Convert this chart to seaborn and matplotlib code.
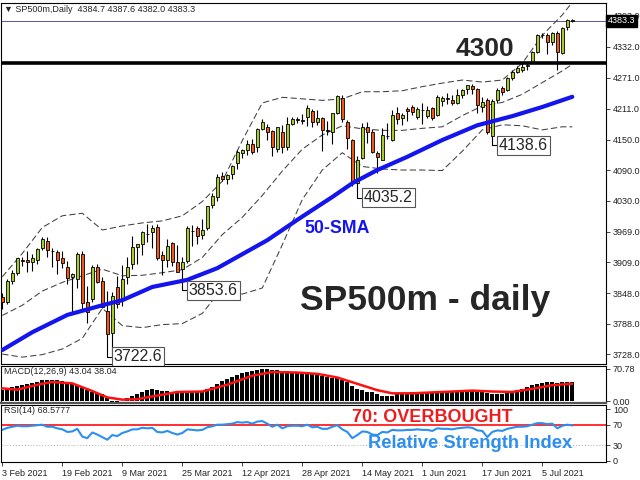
import numpy as np
import pandas as pd
import matplotlib
matplotlib.use('Agg')
import matplotlib.pyplot as plt
import seaborn as sns

# --- candles (one per daily bar, 3 Feb .. 13 Jul 2021) ---
opens = [3840, 3830, 3872, 3887, 3913, 3914, 3910, 3914, 3936, 3950,
         3930, 3928, 3917, 3900, 3880, 3875, 3925, 3830, 3836, 3900,
         3872, 3812, 3770, 3860, 3836, 3880, 3905, 3939, 3945, 3965,
         3968, 3977, 3922, 3913, 3946, 3910, 3895, 3912, 3970, 3976,
         3962, 3976, 4022, 4036, 4078, 4073, 4082, 4104, 4124, 4129,
         4141, 4135, 4171, 4175, 4167, 4131, 4165, 4135, 4181, 4190,
         4189, 4194, 4206, 4185, 4192, 4168, 4165, 4202, 4232, 4184,
         4149, 4064, 4114, 4175, 4165, 4123, 4110, 4157, 4149, 4202,
         4192, 4211, 4214, 4195, 4208, 4196, 4212, 4198, 4226, 4230,
         4228, 4222, 4238, 4249, 4255, 4249, 4214, 4228, 4157, 4228,
         4251, 4247, 4271, 4283, 4287, 4294, 4302, 4322, 4355, 4356,
         4342, 4360, 4320, 4371, 4384.7]
highs = [3848, 3876, 3894, 3916, 3918, 3931, 3925, 3937, 3958, 3958,
         3937, 3932, 3930, 3912, 3888, 3928, 3930, 3861, 3904, 3906,
         3879, 3852, 3851, 3881, 3903, 3918, 3960, 3945, 3970, 3983,
         3981, 3983, 3931, 3955, 3949, 3942, 3919, 3979, 3981, 3979,
         3994, 4020, 4045, 4083, 4086, 4083, 4099, 4130, 4132, 4149,
         4152, 4173, 4191, 4180, 4169, 4175, 4179, 4194, 4194, 4194,
         4201, 4218, 4210, 4209, 4194, 4187, 4202, 4238, 4238, 4188,
         4152, 4118, 4183, 4185, 4170, 4128, 4172, 4182, 4209, 4213,
         4203, 4213, 4218, 4214, 4222, 4215, 4214, 4238, 4236, 4242,
         4237, 4250, 4249, 4258, 4260, 4252, 4233, 4232, 4230, 4252,
         4256, 4272, 4286, 4295, 4300, 4303, 4324, 4357, 4360, 4359,
         4361, 4363, 4372, 4388, 4387.6]
lows = [3817, 3826, 3866, 3883, 3902, 3890, 3891, 3905, 3932, 3918,
        3899, 3885, 3898, 3866, 3810, 3858, 3815, 3789, 3830, 3868,
        3818, 3722.6, 3724, 3818, 3823, 3866, 3895, 3906, 3923, 3949,
        3937, 3914, 3884, 3900, 3901, 3889, 3853.6, 3907, 3941, 3944,
        3955, 3973, 4015, 4030, 4068, 4063, 4073, 4092, 4114, 4120,
        4122, 4125, 4168, 4150, 4118, 4126, 4123, 4130, 4178, 4182,
        4181, 4176, 4174, 4179, 4128, 4158, 4142, 4201, 4185, 4132,
        4058, 4035.2, 4112, 4144, 4123, 4084, 4110, 4152, 4148, 4181,
        4179, 4187, 4199, 4190, 4180, 4192, 4188, 4196, 4216, 4220,
        4218, 4220, 4232, 4240, 4240, 4203, 4205, 4160, 4138.6, 4222,
        4238, 4245, 4267, 4280, 4283, 4286, 4300, 4320, 4349, 4318,
        4335, 4287, 4318, 4365, 4382.0]
closes = [3830, 3872, 3887, 3916, 3911, 3910, 3916, 3935, 3955, 3932,
          3931, 3914, 3907, 3877, 3886, 3925, 3829, 3811, 3900, 3870,
          3820, 3768, 3842, 3826, 3876, 3899, 3939, 3944, 3969, 3964,
          3975, 3916, 3913, 3940, 3910, 3889, 3910, 3975, 3971, 3960,
          3973, 4019, 4038, 4076, 4073, 4080, 4097, 4126, 4129, 4141,
          4126, 4171, 4185, 4165, 4135, 4175, 4135, 4181, 4190, 4188,
          4186, 4212, 4185, 4193, 4169, 4167, 4202, 4235, 4190, 4153,
          4064, 4110, 4175, 4165, 4126, 4116, 4159, 4157, 4198, 4190,
          4198, 4206, 4204, 4210, 4208, 4208, 4192, 4234, 4232, 4230,
          4222, 4238, 4247, 4257, 4250, 4218, 4224, 4165, 4226, 4247,
          4243, 4271, 4283, 4291, 4293, 4296, 4322, 4356, 4356, 4342,
          4360, 4322, 4369, 4385, 4383.3]

date_labels = ['3 Feb 2021', '19 Feb 2021', '9 Mar 2021', '25 Mar 2021', '12 Apr 2021',
               '28 Apr 2021', '14 May 2021', '1 Jun 2021', '17 Jun 2021', '5 Jul 2021']
date_pos = [0, 12, 24, 36, 48, 60, 72, 84, 96, 108]

# bollinger bands (20,2), read at every 4th bar
bb_idx = [0, 4, 8, 12, 16, 20, 24, 28, 32, 36, 40, 44, 48, 52, 56, 60, 64, 68, 72, 76,
          80, 84, 88, 92, 96, 100, 104, 108, 112, 114]
bb_mid = [3804, 3824, 3852, 3869, 3882, 3895, 3882, 3883, 3888, 3894, 3918, 3963, 3997, 4040,
          4088, 4131, 4159, 4177, 4171, 4168, 4168, 4172, 4175, 4197, 4216, 4223, 4239, 4262,
          4285, 4298]
bb_up = [3880, 3926, 3977, 4000, 4005, 3972, 3980, 3986, 3990, 4000, 4028, 4068, 4148, 4222,
         4233, 4230, 4227, 4230, 4244, 4244, 4246, 4254, 4261, 4267, 4263, 4267, 4300, 4355,
         4395, 4420]
bb_low = [3728, 3722, 3727, 3738, 3759, 3818, 3784, 3780, 3786, 3788, 3808, 3858, 3846, 3858,
          3943, 4032, 4090, 4124, 4097, 4092, 4090, 4090, 4089, 4127, 4169, 4179, 4177, 4169,
          4175, 4175]

# 50-SMA
sma_idx = [0, 6, 13, 20, 24, 30, 37, 43, 47, 53, 59, 66, 70, 75, 81, 88, 95, 102, 108, 114]
sma_val = [3736, 3771, 3805, 3824, 3834, 3860, 3874, 3897, 3919, 3952, 3992, 4037, 4064, 4090,
           4116, 4149, 4178, 4196, 4214, 4234]

# MACD(12,26,9): main as histogram, signal as line
macd_hist = [24, 26, 30, 33, 36, 38, 40, 43, 46, 47, 47, 46, 44, 41, 37, 36, 30, 24, 21, 17,
             15, 6, -3, -4, -1, 6, 11, 16, 20, 24, 27, 25, 22, 22, 21, 19, 18, 21, 22, 22,
             22, 27, 32, 38, 44, 49, 54, 58, 61, 64, 66, 68, 70, 71, 69, 68, 67, 66, 65, 64,
             63, 61, 59, 57, 55, 53, 51, 50, 46, 41, 33, 27, 24, 21, 19, 15, 12, 11, 12, 15,
             17, 18, 19, 20, 20, 20, 20, 21, 21, 21, 21, 22, 23, 24, 25, 24, 21, 17, 16, 16,
             16, 18, 21, 24, 27, 31, 35, 38, 39, 41, 41, 40, 41, 42, 43.04]
sig_idx = [0, 3, 7, 10, 14, 18, 21, 24, 27, 31, 35, 40, 45, 50, 54, 59, 63, 67, 71, 75, 78,
           82, 86, 90, 94, 98, 102, 106, 110, 114]
sig_val = [28, 25, 36, 42, 39, 22, 8, 3, 4, 12, 20, 21, 36, 56, 64, 63, 60, 52, 38, 24, 17,
           17, 19, 21, 23, 21, 20, 27, 35, 38.04]

# RSI(14)
rsi = [60, 64, 66, 68, 67, 67, 68, 69, 70, 66,
       66, 63, 61, 56, 57, 62, 47, 44, 55, 51,
       46, 41, 50, 48, 54, 57, 61, 61, 64, 63,
       64, 56, 55, 58, 54, 51, 54, 61, 60, 59,
       60, 65, 67, 70, 70, 71, 72, 75, 74, 75,
       72, 76, 77, 72, 66, 70, 63, 67, 68, 68,
       67, 70, 65, 66, 62, 62, 66, 69, 61, 56,
       44, 50, 57, 56, 51, 50, 56, 55, 60, 59,
       59, 60, 60, 61, 60, 60, 58, 63, 62, 62,
       61, 63, 64, 65, 64, 59, 58, 46, 56, 59,
       58, 62, 64, 66, 66, 67, 70, 73, 73, 71,
       72, 63, 68, 70, 68.58]

price_ticks = [3728.0, 3788.0, 3848.0, 3909.0, 3969.0, 4030.0, 4090.0, 4150.0, 4211.0,
               4271.0, 4332.0, 4393.0]
marked_lows = [(21, 3722.6), (36, 3853.6), (71, 4035.2), (98, 4138.6)]

sns.set_style('white')
plt.rcParams['font.family'] = ['Liberation Sans', 'DejaVu Sans']

fig = plt.figure(figsize=(6.4, 4.8), dpi=100)
W, H = 640, 480


def px_axes(x0, y0, x1, y1):
    return fig.add_axes([x0 / W, 1 - y1 / H, (x1 - x0) / W, (y1 - y0) / H])


ax = px_axes(1, 3, 606, 364)
ax2 = px_axes(1, 366, 606, 403)
ax3 = px_axes(1, 405, 606, 462)

df = pd.DataFrame({'o': opens, 'h': highs, 'l': lows, 'c': closes})
df['i'] = np.arange(len(df))
up = df['c'] >= df['o']
body = (df['c'] - df['o']).where((df['c'] - df['o']).abs() > 0.8, 0.8)

# price panel
dash = (0, (6, 3))
sns.lineplot(x=bb_idx, y=bb_up, ax=ax, color='#404040', lw=0.75, linestyle=dash, zorder=1)
sns.lineplot(x=bb_idx, y=bb_mid, ax=ax, color='#404040', lw=0.75, linestyle=dash, zorder=1)
sns.lineplot(x=bb_idx, y=bb_low, ax=ax, color='#404040', lw=0.75, linestyle=dash, zorder=1)
ax.vlines(df['i'], df['l'], df['h'], color='black', lw=0.8, zorder=2)
ax.bar(df['i'], body, bottom=df['o'], width=0.62,
       color=np.where(up, '#a5cc2c', '#f0571c'), edgecolor='black', linewidth=0.6, zorder=3)
sns.lineplot(x=sma_idx, y=sma_val, ax=ax, color='#1414ee', lw=3, zorder=4)

ax.axhline(4300, color='black', lw=2.6, zorder=5)
ax.axhline(closes[-1], color='#3c3c88', lw=0.6, zorder=1)

for i, p in marked_lows:
    ax.plot([i, i + 1.3], [p, p], color='black', lw=0.8, zorder=5)
    ax.text(i + 1.3, p, f'{p:.1f}', ha='left', va='center', fontsize=11.5, zorder=6,
            bbox=dict(boxstyle='square,pad=0.12', fc='white', ec='#555555', lw=0.8))

ax.text(96.5, 4304, '4300', fontsize=19, fontweight='bold', ha='center', va='bottom', zorder=6)
ax.text(84.6, 3833, 'SP500m - daily', fontsize=25.5, fontweight='bold', ha='center', va='center')
ax.text(67.0, 3975, '50-SMA', fontsize=12.8, fontweight='bold', color='#1414ee',
        ha='center', va='center')

ax.set_xlim(-0.26, 120.74)
ax.set_ylim(3708.5, 4418.5)
ax.set_yticks(price_ticks)
ax.set_yticklabels([f'{t:.1f}' for t in price_ticks])
ax.yaxis.tick_right()
ax.set_xticks([])
ax.text(1.003, closes[-1], f'{closes[-1]:.1f}', transform=ax.get_yaxis_transform(),
        color='white', fontsize=6.5, ha='left', va='center', zorder=10, clip_on=False,
        bbox=dict(boxstyle='square,pad=0.2', fc='black', ec='black'))
fig.text(4 / W, 1 - 10 / H, '\u25bc SP500m,Daily  4384.7 4387.6 4382.0 4383.3',
         fontsize=6.5, ha='left', va='center', family=['Liberation Sans', 'DejaVu Sans'])

# MACD panel
ax2.bar(np.arange(len(macd_hist)), macd_hist, width=0.8, color='black', linewidth=0, zorder=2)
sns.lineplot(x=sig_idx, y=sig_val, ax=ax2, color='#ff1010', lw=1.8, zorder=3)
ax2.set_xlim(-0.26, 120.74)
ax2.set_ylim(-4.4, 77.4)
ax2.set_yticks([0, 70.78])
ax2.set_yticklabels(['0.00', '70.78'])
ax2.yaxis.tick_right()
ax2.set_xticks([])
ax2.text(0.005, 0.86, 'MACD(12,26,9) 43.04 38.04', transform=ax2.transAxes, fontsize=6.5,
         ha='left', va='center')

# RSI panel
ax3.axhline(70, color='#ff2020', lw=1.3, zorder=1)
ax3.axhline(30, color='#b0b0b0', lw=0.7, linestyle=(0, (1, 2)), zorder=1)
sns.lineplot(x=np.arange(len(rsi)), y=rsi, ax=ax3, color='#2b8ff0', lw=1.5, zorder=2)
ax3.set_xlim(-0.26, 120.74)
ax3.set_ylim(-2, 108)
ax3.set_yticks([0, 30, 70, 100])
ax3.yaxis.tick_right()
ax3.set_xticks(date_pos)
ax3.set_xticklabels(date_labels)
for lbl in ax3.get_xticklabels():
    lbl.set_horizontalalignment('left')
ax3.text(0.005, 0.9, 'RSI(14) 68.5777', transform=ax3.transAxes, fontsize=6.5,
         ha='left', va='center')
ax3.text(86.1, 83, '70: OVERBOUGHT', fontsize=13, fontweight='bold', color='#ee1c1c',
         ha='center', va='center')
ax3.text(93.5, 33, 'Relative Strength Index', fontsize=13.2, fontweight='bold',
         color='#2b8ff0', ha='center', va='center')

for a in (ax, ax2, ax3):
    a.set_xlabel('')
    a.set_ylabel('')
    for s in a.spines.values():
        s.set_color('black')
        s.set_linewidth(0.8)
    a.tick_params(axis='y', which='both', right=True, length=3, width=0.6, pad=2,
                  labelsize=6.5, labelcolor='#222222', direction='out')
ax2.spines['bottom'].set_color('#555555')
ax2.spines['bottom'].set_linewidth(1.6)
ax3.tick_params(axis='x', bottom=True, length=3, width=0.6, pad=2, labelsize=6.5,
                labelcolor='#222222', direction='out')

fig.savefig('out.png', dpi=100)
